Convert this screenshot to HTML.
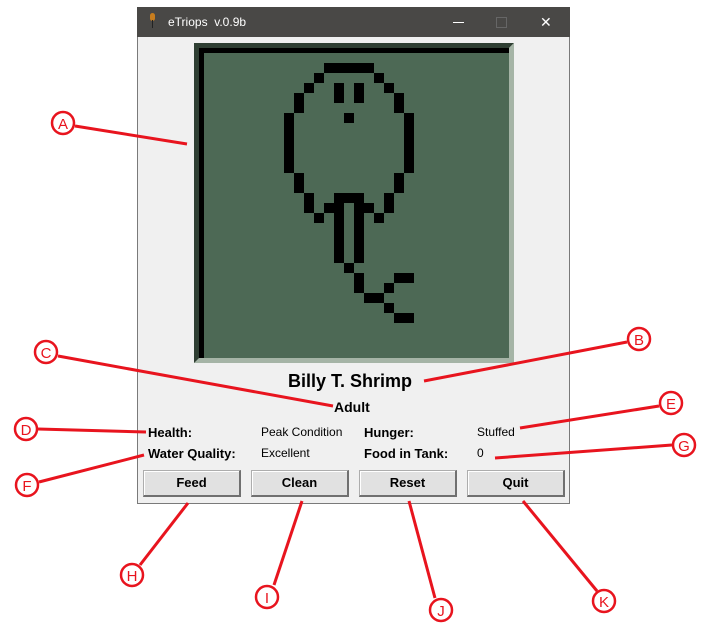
<!DOCTYPE html>
<html><head><meta charset="utf-8"><style>
body{margin:0;width:711px;height:633px;background:#fff;position:relative;overflow:hidden;font-family:"Liberation Sans",sans-serif}
.win{position:absolute;left:137px;top:7px;width:433px;height:497px;background:#f0f0f0;border:1px solid #7a7a7a;border-top:none;box-sizing:border-box}
.tb{position:absolute;left:137px;top:7px;width:433px;height:30px;background:#494846;color:#fff;font-size:12px}
.t{position:absolute;font-size:13px;color:#000}
.b{font-weight:bold}
.btn{position:absolute;top:470px;width:98px;height:27px;box-sizing:border-box;background:#e1e1e1;border:1px solid #adadad;border-right:2px solid #707070;border-bottom:2px solid #707070;font-weight:bold;font-size:13px;text-align:center;line-height:24px;box-shadow:inset 1px 1px 0 #fff}
</style></head><body>
<div class="win"></div>
<div class="tb">
 <div style="position:absolute;left:13px;top:6px;width:5px;height:8px;background:#c77d1e;border-radius:3px"></div>
 <div style="position:absolute;left:15px;top:13px;width:1px;height:8px;background:#222"></div>
 <div style="position:absolute;left:31px;top:8px">eTriops&nbsp; v.0.9b</div>
 <div style="position:absolute;left:316px;top:15px;width:11px;height:1px;background:#fff"></div>
 <div style="position:absolute;left:359px;top:10px;width:9px;height:9px;border:1px solid #666"></div>
 <div style="position:absolute;left:403px;top:7px;font-size:14px;color:#fff">✕</div>
</div>
<svg width="711" height="633" style="position:absolute;left:0;top:0">
 <polygon points="194,43 514,43 509,48 204,48 204,358 194,363" fill="#2f3f33"/>
 <polygon points="514,43 514,363 194,363 199,358 509,358 509,48" fill="#a5b4a6"/>
 <rect x="199" y="48" width="310" height="310" fill="#000"/>
 <rect x="204" y="53" width="305" height="305" fill="#4d6955"/>
 <g fill="#000">
  <rect x="324" y="63" width="50" height="10"/>
  <rect x="314" y="73" width="10" height="10"/><rect x="374" y="73" width="10" height="10"/>
  <rect x="304" y="83" width="10" height="10"/><rect x="384" y="83" width="10" height="10"/>
  <rect x="334" y="83" width="10" height="20"/><rect x="354" y="83" width="10" height="20"/>
  <rect x="294" y="93" width="10" height="20"/><rect x="394" y="93" width="10" height="20"/>
  <rect x="344" y="113" width="10" height="10"/>
  <rect x="284" y="113" width="10" height="60"/><rect x="404" y="113" width="10" height="60"/>
  <rect x="294" y="173" width="10" height="20"/><rect x="394" y="173" width="10" height="20"/>
  <rect x="304" y="193" width="10" height="20"/><rect x="384" y="193" width="10" height="20"/>
  <rect x="334" y="193" width="30" height="10"/>
  <rect x="324" y="203" width="20" height="10"/><rect x="354" y="203" width="20" height="10"/>
  <rect x="314" y="213" width="10" height="10"/><rect x="374" y="213" width="10" height="10"/>
  <rect x="334" y="213" width="10" height="50"/><rect x="354" y="213" width="10" height="50"/>
  <rect x="344" y="263" width="10" height="10"/>
  <rect x="354" y="273" width="10" height="20"/>
  <rect x="394" y="273" width="20" height="10"/>
  <rect x="384" y="283" width="10" height="10"/>
  <rect x="364" y="293" width="20" height="10"/>
  <rect x="384" y="303" width="10" height="10"/>
  <rect x="394" y="313" width="20" height="10"/>
 </g>
 <g stroke="#e8141e" stroke-width="3" fill="none">
  <line x1="75" y1="126" x2="187" y2="144"/>
  <line x1="627" y1="342" x2="424" y2="381"/>
  <line x1="58" y1="356" x2="333" y2="406"/>
  <line x1="38" y1="429" x2="146" y2="432"/>
  <line x1="659" y1="406" x2="520" y2="428"/>
  <line x1="39" y1="482" x2="144" y2="455"/>
  <line x1="672" y1="445" x2="495" y2="458"/>
  <line x1="140" y1="565" x2="188" y2="503"/>
  <line x1="274" y1="585" x2="302" y2="501"/>
  <line x1="435" y1="598" x2="409" y2="501"/>
  <line x1="597" y1="591" x2="523" y2="501"/>
 </g>
 <g stroke="#e8141e" stroke-width="2.5" fill="#fff">
  <circle cx="63" cy="123" r="11"/><circle cx="639" cy="339" r="11"/><circle cx="46" cy="352" r="11"/>
  <circle cx="26" cy="429" r="11"/><circle cx="671" cy="403" r="11"/><circle cx="27" cy="485" r="11"/>
  <circle cx="684" cy="445" r="11"/><circle cx="132" cy="575" r="11"/><circle cx="267" cy="597" r="11"/>
  <circle cx="441" cy="610" r="11"/><circle cx="604" cy="601" r="11"/>
 </g>
 <g fill="#e8141e" font-family="Liberation Sans,sans-serif" font-size="15" text-anchor="middle">
  <text x="63" y="129">A</text><text x="639" y="345">B</text><text x="46" y="358">C</text>
  <text x="26" y="435">D</text><text x="671" y="409">E</text><text x="27" y="491">F</text>
  <text x="684" y="451">G</text><text x="132" y="581">H</text><text x="267" y="603">I</text>
  <text x="441" y="616">J</text><text x="604" y="607">K</text>
 </g>
</svg>
<div class="t b" style="left:288px;top:371px;font-size:18px">Billy T. Shrimp</div>
<div class="t b" style="left:334px;top:399px;font-size:14px">Adult</div>
<div class="t b" style="left:148px;top:425px">Health:</div>
<div class="t" style="left:261px;top:425px;font-size:12px">Peak Condition</div>
<div class="t b" style="left:364px;top:425px">Hunger:</div>
<div class="t" style="left:477px;top:425px;font-size:12px">Stuffed</div>
<div class="t b" style="left:148px;top:446px">Water Quality:</div>
<div class="t" style="left:261px;top:446px;font-size:12px">Excellent</div>
<div class="t b" style="left:364px;top:446px">Food in Tank:</div>
<div class="t" style="left:477px;top:446px;font-size:12px">0</div>
<div class="btn" style="left:143px">Feed</div>
<div class="btn" style="left:251px">Clean</div>
<div class="btn" style="left:359px">Reset</div>
<div class="btn" style="left:467px">Quit</div>
</body></html>
